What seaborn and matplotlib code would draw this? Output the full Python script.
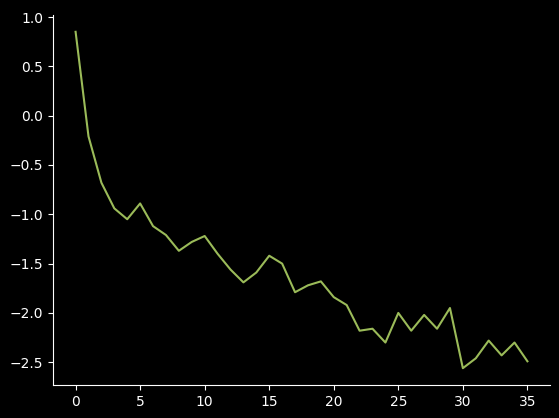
import matplotlib
matplotlib.use("Agg")
import matplotlib.pyplot as plt
import seaborn as sns
import pandas as pd

steps = list(range(36))
values = [0.85, -0.21, -0.68, -0.94, -1.05, -0.89, -1.12, -1.21, -1.37, -1.28,
          -1.22, -1.40, -1.56, -1.69, -1.59, -1.42, -1.50, -1.79, -1.72, -1.68,
          -1.84, -1.92, -2.18, -2.16, -2.30, -2.00, -2.18, -2.02, -2.16, -1.95,
          -2.56, -2.46, -2.28, -2.43, -2.30, -2.49]

df = pd.DataFrame({"x": steps, "y": values})

plt.style.use("dark_background")
fig = plt.figure(figsize=(5.59, 4.18), dpi=100)
ax = fig.add_axes([53/559, 1 - 385/418, (550-53)/559, (385-15)/418])
sns.lineplot(data=df, x="x", y="y", ax=ax, color="#9BBB59", linewidth=1.5)
ax.set_xlabel("")
ax.set_ylabel("")
ax.set_xticks([0, 5, 10, 15, 20, 25, 30, 35])
ax.set_yticks([1.0, 0.5, 0.0, -0.5, -1.0, -1.5, -2.0, -2.5])
sns.despine(ax=ax)
fig.savefig("out.png", dpi=100, facecolor="black")
